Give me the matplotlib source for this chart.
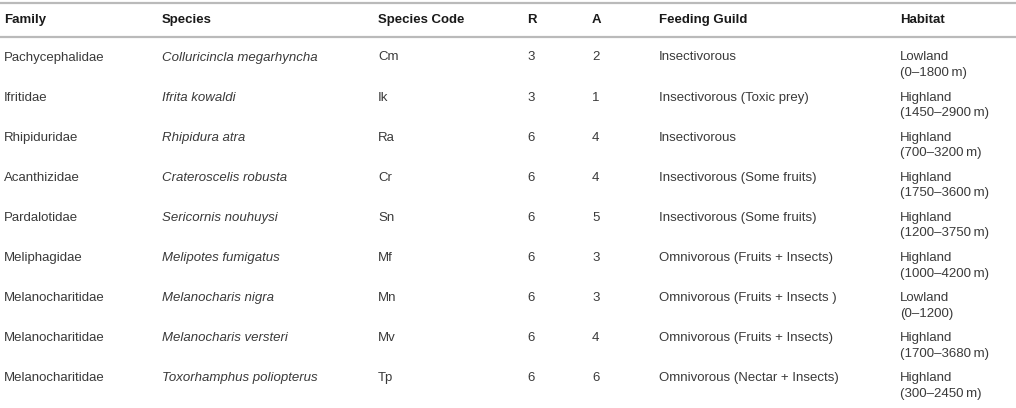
import matplotlib.pyplot as plt

plt.rcParams['font.family'] = ['Liberation Sans', 'DejaVu Sans']

# 표 데이터
headers = ['Family', 'Species', 'Species Code', 'R', 'A', 'Feeding Guild', 'Habitat']
families = ['Pachycephalidae', 'Ifritidae', 'Rhipiduridae', 'Acanthizidae', 'Pardalotidae',
            'Meliphagidae', 'Melanocharitidae', 'Melanocharitidae', 'Melanocharitidae']
species = ['Colluricincla megarhyncha', 'Ifrita kowaldi', 'Rhipidura atra', 'Crateroscelis robusta',
           'Sericornis nouhuysi', 'Melipotes fumigatus', 'Melanocharis nigra',
           'Melanocharis versteri', 'Toxorhamphus poliopterus']
codes = ['Cm', 'Ik', 'Ra', 'Cr', 'Sn', 'Mf', 'Mn', 'Mv', 'Tp']
r_vals = [3, 3, 6, 6, 6, 6, 6, 6, 6]
a_vals = [2, 1, 4, 4, 5, 3, 3, 4, 6]
guilds = ['Insectivorous', 'Insectivorous (Toxic prey)', 'Insectivorous',
          'Insectivorous (Some fruits)', 'Insectivorous (Some fruits)',
          'Omnivorous (Fruits + Insects)', 'Omnivorous (Fruits + Insects )',
          'Omnivorous (Fruits + Insects)', 'Omnivorous (Nectar + Insects)']
habitat_type = ['Lowland', 'Highland', 'Highland', 'Highland', 'Highland',
                'Highland', 'Lowland', 'Highland', 'Highland']
habitat_range = ['(0\u20131800\u2009m)', '(1450\u20132900\u2009m)', '(700\u20133200\u2009m)',
                 '(1750\u20133600\u2009m)', '(1200\u20133750\u2009m)', '(1000\u20134200\u2009m)',
                 '(0\u20131200)', '(1700\u20133680\u2009m)', '(300\u20132450\u2009m)']

W, H = 1016, 408
fig = plt.figure(figsize=(W / 100, H / 100), dpi=100)
ax = fig.add_axes([0, 0, 1, 1])
ax.set_xlim(0, W)
ax.set_ylim(H, 0)
ax.axis('off')

col_x = [4, 162, 378, 527, 592, 659, 900]
header_y = 20
row_y0 = 57.5
row_h = 40.1
fs = 9.5
body_color = '#3a3a3a'

# 선
ax.axhline(3, color='#bababa', lw=1.6)
ax.axhline(36.5, color='#bababa', lw=1.6)

for x, h in zip(col_x, headers):
    ax.text(x, header_y, h, fontsize=fs, fontweight='bold', color='#1a1a1a', va='center', ha='left')

for i in range(len(families)):
    y = row_y0 + i * row_h
    cells = [families[i], species[i], codes[i], str(r_vals[i]), str(a_vals[i]), guilds[i], habitat_type[i]]
    for j, (x, c) in enumerate(zip(col_x, cells)):
        ax.text(x, y, c, fontsize=fs, color=body_color, va='center', ha='left',
                style='italic' if j == 1 else 'normal')
    ax.text(col_x[6], y + 15.5, habitat_range[i], fontsize=fs, color=body_color, va='center', ha='left')

fig.savefig('out.png', dpi=100)
